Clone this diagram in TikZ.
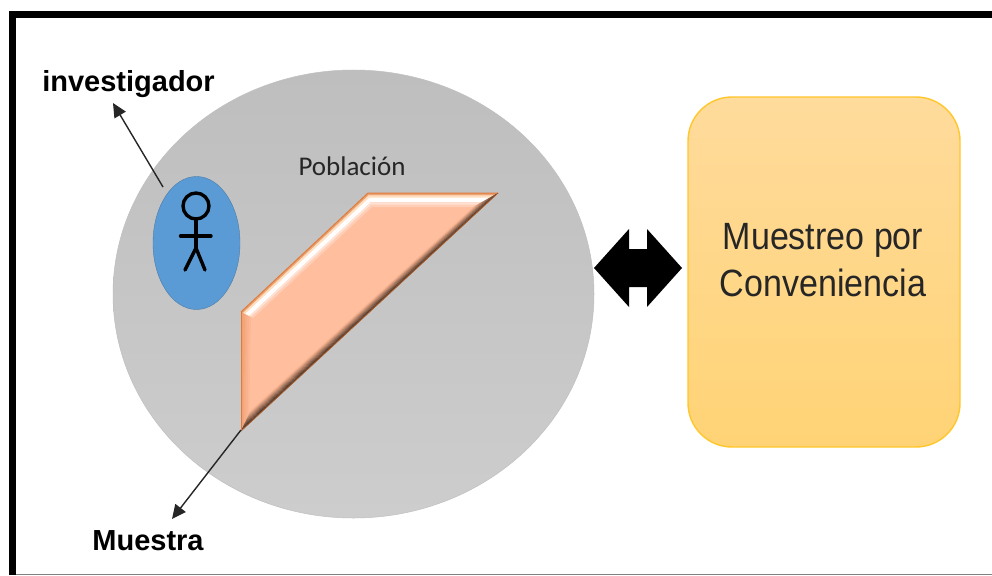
\documentclass[tikz,border=0pt]{standalone}
\usepackage{fontspec}
\setmainfont{Liberation Sans}
\newfontfamily\popfont{Carlito}
\usetikzlibrary{arrows.meta,shadings,calc,shapes.geometric}
\definecolor{greyA}{HTML}{BEBEBE}
\definecolor{greyB}{HTML}{CDCDCD}
\definecolor{blueP}{HTML}{5B9BD5}
\definecolor{orangeA}{HTML}{FFDB9C}
\definecolor{orangeB}{HTML}{FFD375}
\definecolor{orangeE}{HTML}{FFC72C}
\definecolor{salmon}{HTML}{FFBE9E}
\definecolor{salmonE}{HTML}{E07B3A}
\tikzset{
  x=1pt,y=-1pt,
  conn/.style={draw=black!85,line width=1.4pt,-{Triangle[length=14pt,width=13pt]}},
  boldlab/.style={font=\bfseries\fontsize{29}{34}\selectfont,text=black,inner sep=0pt},
  stick/.style={line width=3.4pt,black,line cap=round},
  boxtext/.style={font=\fontsize{38}{47}\selectfont,text=black!85,inner sep=0pt,anchor=base,xscale=.895,transform shape}
}
\begin{document}
\begin{tikzpicture}
\useasboundingbox (0,0) rectangle (992,575);
\fill[white] (0,0) rectangle (992,575);
% frame
\draw[black!50,line width=1pt] (9,574.5) -- (992,574.5);
\fill[black] (9,11) rectangle (992,18);
\fill[black] (9,11) rectangle (16,575);
% population
\node[ellipse,minimum width=481pt,minimum height=448pt,inner sep=0pt,draw=black!25,line width=.5pt,top color=greyA,bottom color=greyB] (pop) at (353.5,294) {};
\node[font=\popfont\fontsize{27}{30}\selectfont,text=black!85,inner sep=0pt] (plab) at (352,166) {Población};
% person ellipse
\node[ellipse,minimum width=87pt,minimum height=133pt,inner sep=0pt,fill=blueP,draw=blueP!80!black,line width=.4pt] (per) at (196.5,243) {};
\draw[stick] (196,206) circle (13);
\draw[stick] (196,219) -- (196,248) coordinate (hip);
\draw[stick] (180.5,236) -- (211,236);
\draw[stick] (185,270) -- (hip) -- (205,270);
% parallelogram
\coordinate (a) at (241,312);
\coordinate (b) at (368,193);
\coordinate (c) at (498,193);
\coordinate (d) at (241,431);
\coordinate (ia) at (253,318);
\coordinate (ib) at (372,207);
\coordinate (ic) at (473,207);
\coordinate (id) at (251,410);
\fill[salmon] (a)--(b)--(c)--(d)--cycle;
% upper bevels: orange edge, white ridge, back to the fill
\foreach \i/\s/\col in {0/.2/salmonE!70!white,1/.2/orange!25!white,2/.2/white,3/.2/white,4/.2/white!55!salmon,5/.2/white!25!salmon}{
  \pgfmathsetmacro\ta{\i/6}\pgfmathsetmacro\tb{(\i+1)/6+.01}
  \fill[\col] ($(a)!\ta!(ia)$)--($(b)!\ta!(ib)$)--($(b)!\tb!(ib)$)--($(a)!\tb!(ia)$)--cycle;
  \fill[\col] ($(b)!\ta!(ib)$)--($(c)!\ta!(ic)$)--($(c)!\tb!(ic)$)--($(b)!\tb!(ib)$)--cycle;
}
% left bevel
\foreach \i in {0,...,5}{
  \pgfmathsetmacro\ta{\i/6}\pgfmathsetmacro\tb{(\i+1)/6+.01}
  \pgfmathsetmacro\p{55+9*\i}
  \fill[salmon!\p!salmonE] ($(a)!\ta!(ia)$)--($(a)!\tb!(ia)$)--($(d)!\tb!(id)$)--($(d)!\ta!(id)$)--cycle;
}
% lower right bevel
\foreach \i in {0,...,11}{
  \pgfmathsetmacro\ta{\i/12}\pgfmathsetmacro\tb{(\i+1)/12+.01}
  \pgfmathsetmacro\p{min(100,18+7.5*\i)}
  \fill[salmon!\p!black!90!salmonE] ($(c)!\ta!(ic)$)--($(c)!\tb!(ic)$)--($(d)!\tb!(id)$)--($(d)!\ta!(id)$)--cycle;
}
\draw[salmonE,line width=1pt,line join=round] (a)--(b)--(c);
\draw[salmonE!75!black,line width=.8pt,line join=round] (c)--(d);
\draw[salmonE,line width=.8pt] (d)--(a);
% labels
\node[boldlab,anchor=base] (inv) at (128.5,92) {investigador};
\node[boldlab,anchor=base] (mue) at (148,550) {Muestra};
\coordinate (invS) at (163,187);
\coordinate (invE) at (113,103);
\coordinate (mueS) at (241,430);
\coordinate (mueE) at (172,519);
\draw[conn] (invS) -- (invE);
\draw[conn] (mueS) -- (mueE);
% double arrow
\fill[black] (594,268) -- (629,229) -- (629,249) -- (647,249) -- (647,229) -- (682,268) -- (647,307) -- (647,287) -- (629,287) -- (629,307) -- cycle;
% box
\node[rounded corners=44pt,minimum width=272pt,minimum height=350pt,inner sep=0pt,draw=orangeE,line width=1.4pt,top color=orangeA,bottom color=orangeB] (box) at (824,272) {};
\node[boxtext] (l1) at (823,249) {Muestreo por};
\node[boxtext] (l2) at (823,296) {Conveniencia};
\end{tikzpicture}
\end{document}
